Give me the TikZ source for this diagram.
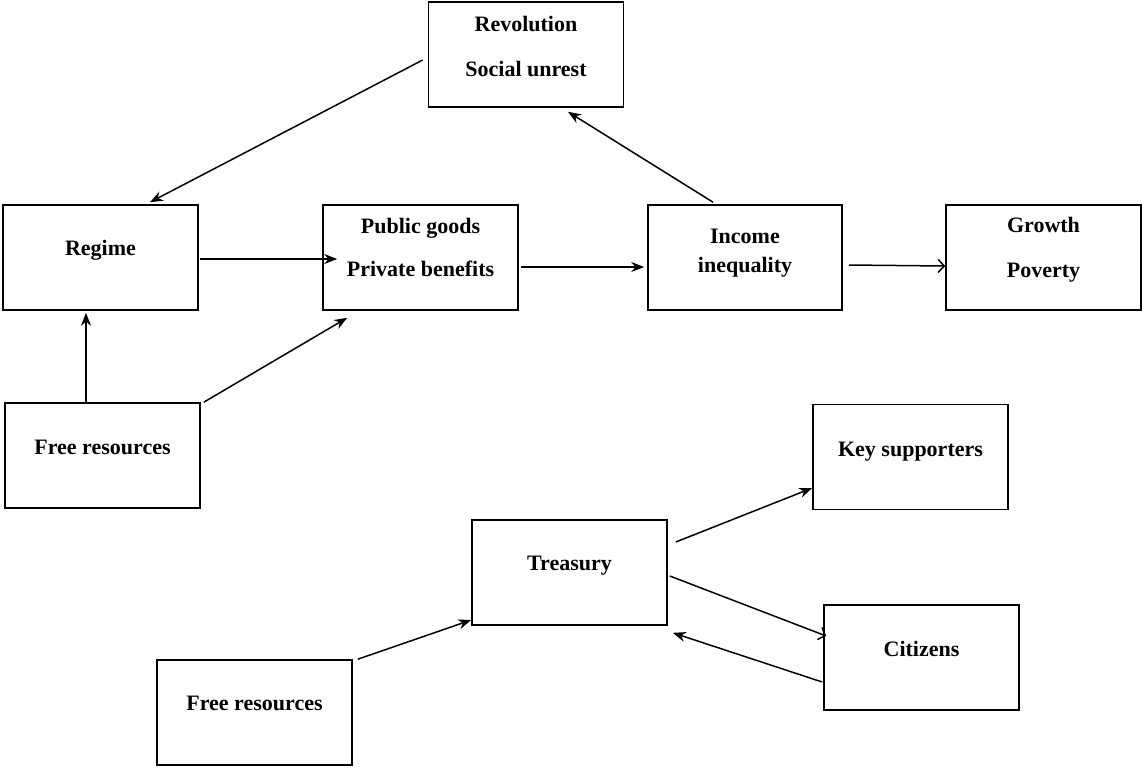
\documentclass[tikz,border=0pt]{standalone}
\usepackage{fontspec}
\setmainfont{Liberation Serif}
\usetikzlibrary{arrows.meta,calc}
\begin{document}
\begin{tikzpicture}[x=1pt,y=-1pt,
 box/.style={draw,line width=1.6pt,minimum width=195pt,minimum height=105pt,inner sep=0pt},
 lbl/.style={font=\fontsize{22}{26}\selectfont\bfseries,anchor=base,inner sep=0pt},
 arr/.style={line width=1.5pt,-{Stealth[length=13pt,width=10pt]}},
 oarr/.style={line width=1.5pt,-{Straight Barb[length=6pt,width=13pt]}}]
\useasboundingbox[fill=white] (0,0) rectangle (1142,769);
% boxes
\node[box] (rev) at (526,54.5) {};
\node[box] (regime) at (100.5,257.5) {};
\node[box] (pub) at (420.5,257.5) {};
\node[box,minimum width=194pt] (inc) at (745,257.5) {};
\node[box] (grow) at (1043.5,257.5) {};
\node[box] (fr1) at (102.5,455.5) {};
\node[box] (key) at (910.5,457) {};
\node[box] (tre) at (569.5,572.5) {};
\node[box] (cit) at (921.5,657.5) {};
\node[box] (fr2) at (254.5,712.5) {};
% labels
\node[lbl] (revA) at ($(rev.north)+(0,30)$) {Revolution};
\node[lbl] (revB) at ($(rev.north)+(0,75)$) {Social unrest};
\node[lbl] (regimeA) at ($(regime.center)+(0,-2.5)$) {Regime};
\node[lbl] (pubA) at ($(pub.center)+(0,-24.5)$) {Public goods};
\node[lbl] (pubB) at ($(pub.center)+(0,18.5)$) {Private benefits};
\node[lbl] (incA) at ($(inc.center)+(0,-14.5)$) {Income};
\node[lbl] (incB) at ($(inc.center)+(0,14.5)$) {inequality};
\node[lbl] (growA) at ($(grow.center)+(0,-25.5)$) {Growth};
\node[lbl] (growB) at ($(grow.center)+(0,19.5)$) {Poverty};
\node[lbl] (fr1A) at ($(fr1.center)+(0,-1.5)$) {Free resources};
\node[lbl] (keyA) at ($(key.center)+(0,-1)$) {Key supporters};
\node[lbl] (treA) at ($(tre.center)+(0,-2.5)$) {Treasury};
\node[lbl] (citA) at ($(cit.center)+(0,-1.5)$) {Citizens};
\node[lbl] (fr2A) at ($(fr2.center)+(0,-2.5)$) {Free resources};
% connectors
\draw[arr] ($(rev.west)+(-5,5.5)$) -- ($(regime.north)+(49.5,-2)$);
\draw[arr] ($(regime.east)+(1.5,1.5)$) -- ($(pub.west)+(15,1.5)$);
\draw[arr] ($(pub.east)+(2,9.5)$) -- ($(inc.west)+(-3,9.5)$);
\draw[oarr] ($(inc.east)+(6,7.5)$) -- ($(grow.west)+(0,8.5)$);
\draw[arr] ($(inc.north)+(-32,-2)$) -- ($(rev.south)+(42,4)$);
\draw[arr] ($(fr1.north)+(-16.5,0)$) -- ($(regime.south)+(-14.5,2)$);
\draw[arr] ($(fr1.north east)+(3,0)$) -- ($(pub.south west)+(25,7)$);
\draw[arr] ($(tre.east)+(8,-30.5)$) -- ($(key.west)+(0,31)$);
\draw[oarr] ($(tre.east)+(2,3.5)$) -- ($(cit.west)+(3,-21.5)$);
\draw[arr] ($(cit.west)+(-1,24.5)$) -- ($(tre.south east)+(5,7)$);
\draw[arr] ($(fr2.north east)+(5,0)$) -- ($(tre.west)+(0,47.5)$);
\end{tikzpicture}
\end{document}
